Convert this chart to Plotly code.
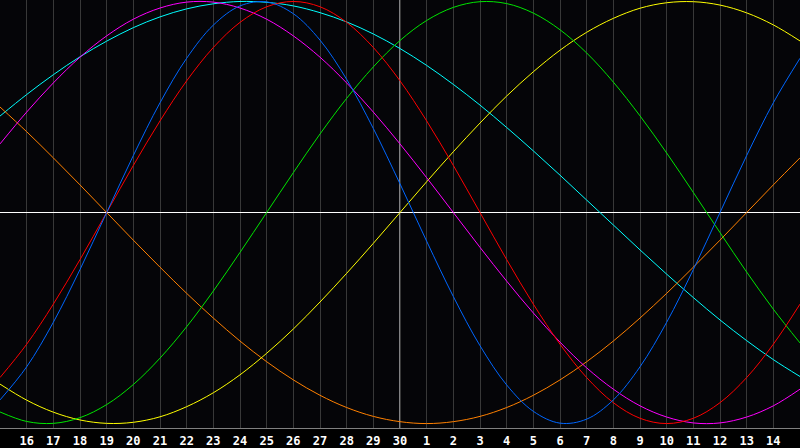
import plotly.graph_objects as go

# Day positions (0..30) and bottom tick labels
days = list(range(31))
tick_pos = list(range(1, 30))
tick_labels = ["16", "17", "18", "19", "20", "21", "22", "23", "24", "25", "26", "27",
               "28", "29", "30", "1", "2", "3", "4", "5", "6", "7", "8", "9", "10",
               "11", "12", "13", "14"]

# Cycle values (-1 .. 1), one per day position
physical = [-0.888, -0.731, -0.520, -0.270, 0.0, 0.270, 0.520, 0.731, 0.888, 0.979,
            0.998, 0.942, 0.817, 0.631, 0.398, 0.136, -0.136, -0.398, -0.631, -0.817,
            -0.942, -0.998, -0.979, -0.888, -0.731, -0.520, -0.270, 0.0, 0.270, 0.520, 0.731]
emotional = [-0.782, -0.624, -0.434, -0.223, 0.0, 0.223, 0.434, 0.624, 0.782, 0.901,
             0.975, 1.0, 0.975, 0.901, 0.782, 0.624, 0.434, 0.223, 0.0, -0.223,
             -0.434, -0.624, -0.782, -0.901, -0.975, -1.0, -0.975, -0.901, -0.782, -0.624, -0.434]
intellectual = [-0.945, -0.990, -0.999, -0.972, -0.910, -0.815, -0.690, -0.541, -0.372, -0.189,
                0.0, 0.189, 0.372, 0.541, 0.690, 0.815, 0.910, 0.972, 0.999, 0.990,
                0.945, 0.866, 0.756, 0.618, 0.458, 0.282, 0.095, -0.095, -0.282, -0.458, -0.618]
intuitive = [0.325, 0.476, 0.614, 0.736, 0.837, 0.916, 0.969, 0.997, 0.997, 0.969,
             0.916, 0.837, 0.736, 0.614, 0.476, 0.325, 0.165, 0.0, -0.165, -0.325,
             -0.476, -0.614, -0.736, -0.837, -0.916, -0.969, -0.997, -0.997, -0.969, -0.916, -0.837]
aesthetic = [-0.813, -0.889, -0.946, -0.983, -0.999, -0.994, -0.968, -0.920, -0.854, -0.769,
             -0.667, -0.552, -0.424, -0.288, -0.146, 0.0, 0.146, 0.288, 0.424, 0.552,
             0.667, 0.769, 0.854, 0.920, 0.968, 0.994, 0.999, 0.983, 0.946, 0.889, 0.813]
awareness = [0.500, 0.383, 0.259, 0.131, 0.0, -0.131, -0.259, -0.383, -0.500, -0.609,
             -0.707, -0.793, -0.866, -0.924, -0.966, -0.991, -1.0, -0.991, -0.966, -0.924,
             -0.866, -0.793, -0.707, -0.609, -0.500, -0.383, -0.259, -0.131, 0.0, 0.131, 0.259]
spiritual = [0.457, 0.559, 0.653, 0.738, 0.812, 0.876, 0.927, 0.965, 0.989, 1.0,
             0.996, 0.979, 0.947, 0.903, 0.846, 0.777, 0.697, 0.607, 0.509, 0.403,
             0.292, 0.177, 0.059, -0.059, -0.177, -0.292, -0.403, -0.509, -0.607, -0.697, -0.777]

series = [
    ("Spiritual", spiritual, "#00ffff"),
    ("Awareness", awareness, "#ff8000"),
    ("Aesthetic", aesthetic, "#ffff00"),
    ("Intellectual", intellectual, "#00e600"),
    ("Intuitive", intuitive, "#ff00ff"),
    ("Emotional", emotional, "#ff0000"),
    ("Physical", physical, "#0066ff"),
]

fig = go.Figure()
for name, vals, col in series:
    fig.add_trace(go.Scatter(x=days, y=vals, mode="lines", name=name,
                             line=dict(color=col, width=1, shape="spline", smoothing=1.0),
                             hoverinfo="skip"))

fig.add_shape(type="line", x0=15, x1=15, y0=0, y1=1, xref="x", yref="paper",
              line=dict(color="#ffffff", width=1), layer="between")

fig.update_layout(
    width=800, height=448,
    margin=dict(l=0, r=0, t=0, b=20, autoexpand=False),
    paper_bgcolor="#000000",
    plot_bgcolor="#050508",
    showlegend=False,
    xaxis=dict(range=[0, 30], tickmode="array", tickvals=tick_pos, ticktext=tick_labels,
               showgrid=True, gridcolor="#383838", gridwidth=1, zeroline=False,
               showline=True, linecolor="#808080", linewidth=1, mirror=True,
               ticks="", ticklabelstandoff=2,
               tickfont=dict(family="DejaVu Sans Mono", size=12, color="#ffffff", weight="bold"),
               fixedrange=True),
    yaxis=dict(range=[-1.021, 1.007], showgrid=False, showticklabels=False,
               zeroline=True, zerolinecolor="#ffffff", zerolinewidth=1,
               showline=True, linecolor="#808080", linewidth=1, mirror=True,
               ticks="", fixedrange=True),
)

fig.write_html("out.html", config={"displayModeBar": False},
               post_script="document.body.style.margin='0';document.body.style.background='#000';")
